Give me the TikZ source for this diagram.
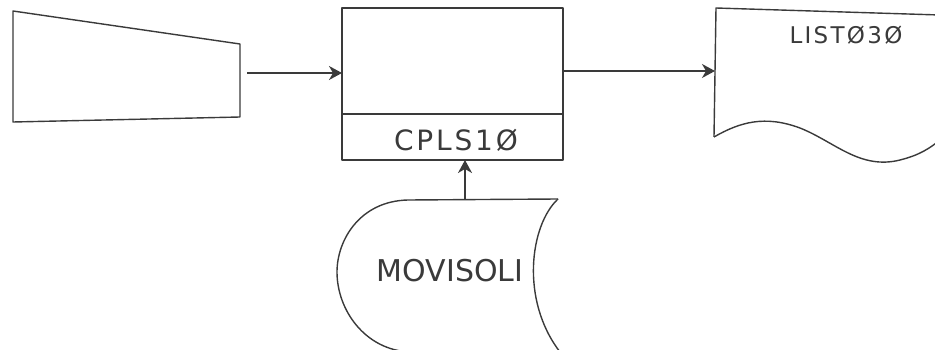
\documentclass[tikz,border=0pt]{standalone}
\usepackage{fontspec}
\newfontfamily\hand{DejaVu Sans}
\newfontfamily\handsp[LetterSpace=10]{DejaVu Sans}
\usetikzlibrary{arrows.meta}
\definecolor{ink}{HTML}{3a3a3a}
\tikzset{
  pen/.style={draw=ink, line width=1.4pt, line join=round},
  flow/.style={pen, -{Stealth[length=13pt,width=14pt,inset=4pt]}},
  label/.style={text=ink, inner sep=0pt},
  procbox/.style={pen, rectangle, minimum width=221pt, minimum height=152pt, inner sep=0pt}
}
\begin{document}
\begin{tikzpicture}[x=1pt,y=-1pt]
\useasboundingbox (0,0) rectangle (935,350);
\clip (0,0) rectangle (935,350);

% manual input (trapezoid)
\draw[pen] (13,11) -- (240,44) -- (240,117) -- (13,122) -- cycle;
\coordinate (inR) at (247,73);

% program box with name strip
\node[procbox] (prog) at (452.5,84) {};
\draw[pen] (342,114) -- (563,114);
\node[label, font=\handsp\fontsize{28}{28}\selectfont] (progname) at (456,140) {CPLS1Ø};
\coordinate (progIn) at (342,73);
\coordinate (progOut) at (563,71);
\coordinate (progBot) at (465,160);

% printed report (document shape)
\draw[pen] (714,137) -- (716,8) -- (940,15);
\draw[pen] (714,137) .. controls (740,122) and (765,115) .. (800,128)
  .. controls (835,142) and (860,170) .. (900,160)
  .. controls (920,155) and (930,148) .. (940,140);
\node[label, font=\handsp\fontsize{23}{23}\selectfont] (report) at (846,35) {LISTØ3Ø};
\coordinate (repIn) at (715,71);

% stored data file
\draw[pen] (558,199) -- (408,200)
  .. controls (360,201) and (337,240) .. (337,272)
  .. controls (337,310) and (365,350) .. (410,352);
\draw[pen] (558,199) .. controls (530,225) and (520,300) .. (560,352);
\node[label, font=\hand\fontsize{30}{30}\selectfont] (file) at (450,271) {MOVISOLI};
\coordinate (fileTop) at (465,200);

% data flows
\draw[flow] (inR) -- (progIn);
\draw[flow] (progOut) -- (repIn);
\draw[flow] (fileTop) -- (progBot);
\end{tikzpicture}
\end{document}
